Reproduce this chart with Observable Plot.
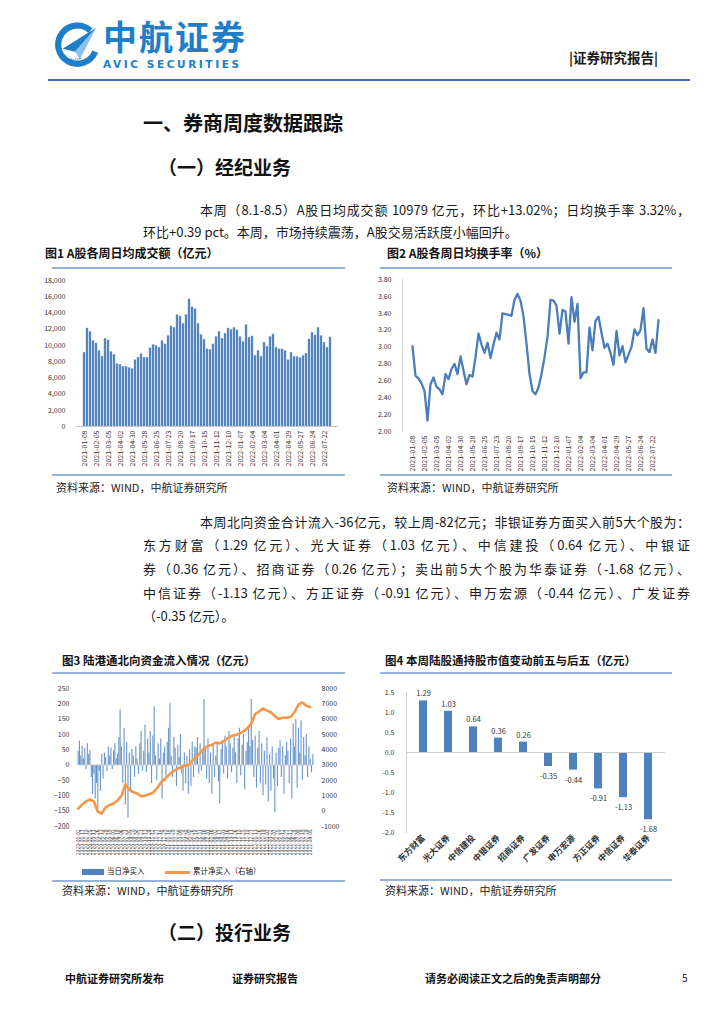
<!DOCTYPE html>
<html><head><meta charset="utf-8">
<script src="https://cdn.jsdelivr.net/npm/d3@7"></script>
<script src="https://cdn.jsdelivr.net/npm/@observablehq/plot@0.6"></script>
<style>
body{margin:0;background:#fff;font-family:"Noto Sans CJK SC","Noto Sans",sans-serif;color:#111;}
#page{position:relative;width:724px;height:1024px;overflow:hidden;background:#fff;}
.abs{position:absolute;white-space:nowrap;}
.ln{position:absolute;white-space:nowrap;font-size:13px;line-height:16px;color:#1a1a1a;}
.j{text-align:justify;text-align-last:justify;}
.ft{font-size:12px;font-weight:700;line-height:14px;}
.src{font-size:11px;line-height:13px;color:#222;}
.rule{position:absolute;height:2px;background:#95B3D7;}
.chart{position:absolute;}
</style></head>
<body><div id="page">
<svg class="abs" style="left:54px;top:21px" width="46" height="48" viewBox="0 0 48 48">
  <path d="M38 9 A20 20 0 1 0 43 31" fill="none" stroke="#1E7EC8" stroke-width="6.5"/>
  <polygon points="9,28 44,6 22,31" fill="#1E7EC8"/>
  <polygon points="22,31 44,6 27,39" fill="#8CC2EA"/>
  <text x="16" y="42" font-size="5.5" font-family="DejaVu Sans" fill="#1E7EC8">AVIC</text>
</svg>
<div class="abs" style="left:103px;top:17px;font-size:34px;font-weight:700;color:#1E7EC8;letter-spacing:2px;line-height:38px;">中航证券</div>
<div class="abs" style="left:103px;top:58px;font-size:10.5px;font-weight:700;color:#1E7EC8;letter-spacing:2.6px;font-family:'DejaVu Sans';line-height:12px;">AVIC SECURITIES</div>
<div class="abs" style="left:569px;top:49px;font-size:13.5px;font-weight:700;color:#1a1a1a;line-height:17px;">|证券研究报告|</div>
<div class="abs" style="left:48px;top:79px;width:642px;height:2px;background:#3E6EB4;"></div>

<div class="abs" style="left:143px;top:111px;font-size:20px;font-weight:700;line-height:24px;">一、券商周度数据跟踪</div>
<div class="abs" style="left:158px;top:155px;font-size:19px;font-weight:700;line-height:24px;">（一）经纪业务</div>

<div class="ln j" style="left:200px;top:202px;width:490px;">本周（8.1-8.5）A股日均成交额 10979 亿元，环比+13.02%；日均换手率 3.32%，</div>
<div class="ln" style="left:143px;top:224px;">环比+0.39 pct。本周，市场持续震荡，A股交易活跃度小幅回升。</div>

<div class="abs ft" style="left:45px;top:246px;">图1 A股各周日均成交额（亿元）</div>
<div class="abs ft" style="left:387px;top:246px;">图2 A股各周日均换手率（%）</div>
<div class="rule" style="left:52px;top:267px;width:293px;"></div>
<div class="rule" style="left:380px;top:267px;width:292px;"></div>
<div id="c1" class="chart" style="left:30px;top:270px;"></div>
<div id="c2" class="chart" style="left:370px;top:270px;"></div>
<div class="rule" style="left:52px;top:474px;width:293px;"></div>
<div class="rule" style="left:380px;top:474px;width:292px;"></div>
<div class="abs src" style="left:56px;top:481px;">资料来源：WIND，中航证券研究所</div>
<div class="abs src" style="left:387px;top:481px;">资料来源：WIND，中航证券研究所</div>

<div class="ln j" style="left:200px;top:514px;width:490px;">本周北向资金合计流入-36亿元，较上周-82亿元；非银证券方面买入前5大个股为：</div>
<div class="ln j" style="left:143px;top:537px;width:547px;">东方财富（1.29 亿元）、光大证券（1.03 亿元）、中信建投（0.64 亿元）、中银证</div>
<div class="ln j" style="left:143px;top:561px;width:547px;">券（0.36 亿元）、招商证券（0.26 亿元）；卖出前5大个股为华泰证券（-1.68 亿元）、</div>
<div class="ln j" style="left:143px;top:585px;width:547px;">中信证券（-1.13 亿元）、方正证券（-0.91 亿元）、申万宏源（-0.44 亿元）、广发证券</div>
<div class="ln" style="left:143px;top:608px;">（-0.35 亿元）。</div>

<div class="abs ft" style="left:62px;top:653px;font-size:11.5px;">图3 陆港通北向资金流入情况（亿元）</div>
<div class="abs ft" style="left:385px;top:653px;font-size:11.5px;">图4 本周陆股通持股市值变动前五与后五（亿元）</div>
<div class="rule" style="left:52px;top:672px;width:293px;"></div>
<div class="rule" style="left:380px;top:672px;width:292px;"></div>
<div id="c3" class="chart" style="left:55px;top:680px;"></div>
<div id="c4" class="chart" style="left:378px;top:680px;"></div>
<div class="abs" style="left:82px;top:869px;width:22px;height:6px;background:#4F81BD;"></div>
<div class="abs" style="left:107px;top:866px;font-size:7.5px;line-height:10px;">当日净买入</div>
<div class="abs" style="left:165px;top:871px;width:25px;height:2.5px;background:#F79646;"></div>
<div class="abs" style="left:193px;top:866px;font-size:7.5px;line-height:10px;">累计净买入（右轴）</div>
<div class="rule" style="left:52px;top:880px;width:293px;"></div>
<div class="rule" style="left:380px;top:879px;width:292px;"></div>
<div class="abs src" style="left:62px;top:884px;">资料来源：WIND，中航证券研究所</div>
<div class="abs src" style="left:385px;top:884px;">资料来源：WIND，中航证券研究所</div>

<div class="abs" style="left:158px;top:920px;font-size:19px;font-weight:700;line-height:24px;">（二）投行业务</div>

<div class="abs" style="left:65px;top:971px;font-size:11px;font-weight:700;line-height:14px;">中航证券研究所发布</div>
<div class="abs" style="left:232px;top:971px;font-size:11px;font-weight:700;line-height:14px;">证券研究报告</div>
<div class="abs" style="left:425px;top:971px;font-size:11px;font-weight:700;line-height:14px;">请务必阅读正文之后的免责声明部分</div>
<div class="abs" style="left:682px;top:971px;font-size:10px;line-height:14px;">5</div>
</div>
<script>
// ---------- Data ----------
const weekDates = [
"2021-01-08","2021-01-15","2021-01-22","2021-01-29","2021-02-05","2021-02-12","2021-02-19","2021-02-26","2021-03-05","2021-03-12",
"2021-03-19","2021-03-26","2021-04-02","2021-04-09","2021-04-16","2021-04-23","2021-04-30","2021-05-07","2021-05-14","2021-05-21",
"2021-05-28","2021-06-04","2021-06-11","2021-06-18","2021-06-25","2021-07-02","2021-07-09","2021-07-16","2021-07-23","2021-07-30",
"2021-08-06","2021-08-13","2021-08-20","2021-08-27","2021-09-03","2021-09-10","2021-09-17","2021-09-24","2021-10-01","2021-10-08",
"2021-10-15","2021-10-22","2021-10-29","2021-11-05","2021-11-12","2021-11-19","2021-11-26","2021-12-03","2021-12-10","2021-12-17",
"2021-12-24","2021-12-31","2022-01-07","2022-01-14","2022-01-21","2022-01-28","2022-02-04","2022-02-11","2022-02-18","2022-02-25",
"2022-03-04","2022-03-11","2022-03-18","2022-03-25","2022-04-01","2022-04-08","2022-04-15","2022-04-22","2022-04-29","2022-05-06",
"2022-05-13","2022-05-20","2022-05-27","2022-06-03","2022-06-10","2022-06-17","2022-06-24","2022-07-01","2022-07-08","2022-07-15",
"2022-07-22","2022-07-29","2022-08-05"];
const turnoverAmt = [
9100,12080,11630,10530,10240,9300,8610,10820,10610,9180,
8820,7670,7590,7350,7350,7200,7060,8160,8490,8900,
8490,8490,9630,10040,9920,9710,10530,10120,11140,12330,
12160,13710,13550,12650,13710,15670,14690,14450,12650,11270,
10690,9510,9400,10120,11020,11670,10820,11430,12080,11880,
12160,11840,11020,10410,12490,10940,11100,8690,9310,8610,
10330,9800,11020,11350,9710,9510,9510,9310,8160,9100,
8570,8570,8410,8690,8980,10730,11550,11220,12160,11140,
10330,9714,10979];
const turnoverRate = [
3.01,2.66,2.63,2.57,2.48,2.13,2.56,2.64,2.53,2.50,
2.44,2.68,2.62,2.74,2.80,2.68,2.89,2.72,2.56,2.67,
2.65,2.88,3.16,3.03,2.93,3.05,2.87,3.03,3.17,3.09,
3.40,3.39,3.38,3.37,3.56,3.63,3.55,3.36,3.04,2.68,
2.48,2.44,2.52,2.68,2.88,3.12,3.56,3.55,3.49,3.16,
3.44,3.42,3.04,3.59,3.30,3.51,2.63,2.70,2.70,3.23,
2.96,3.31,3.36,3.17,2.99,3.04,2.93,2.79,3.19,2.90,
3.01,2.82,2.91,3.00,3.21,3.14,3.20,3.46,2.98,2.94,
3.09,2.93,3.32];
const amtTicks = [0,2000,4000,6000,8000,10000,12000,14000,16000,18000];
const rateTicks = [2.0,2.2,2.4,2.6,2.8,3.0,3.2,3.4,3.6,3.8];

const northDaily = [
45,78,30,62,20,55,-15,70,35,48,
-40,-95,-30,-110,-60,-150,-20,-85,35,-45,
40,25,-20,60,30,55,-15,45,70,20,
35,90,180,60,-60,120,-130,75,-172,40,
-90,50,30,-40,60,20,-30,70,110,-20,
45,130,-25,85,40,110,-60,95,190,30,
-50,70,20,85,-110,40,60,-35,75,120,
200,30,-40,90,55,-70,65,25,100,-30,
-85,40,-60,30,-95,50,-70,75,-40,60,
55,90,-30,70,-20,45,214,60,-45,85,
-60,40,-95,65,-40,30,75,-55,-126,50,
80,-30,95,60,-45,110,70,-25,55,90,
40,-60,85,120,-35,65,100,-80,45,75,
130,60,214,80,-40,95,-75,55,110,-60,
70,-100,45,-65,90,-120,35,-85,60,-45,
-155,40,-70,55,80,-40,60,-95,30,75,
45,-60,85,-110,135,60,150,-75,120,40,
145,-50,90,30,100,-40,60,20,-25,35];
const northCum = [
170,430,640,760,640,-40,-150,260,400,500,
700,1000,1750,1400,1240,1150,980,1000,1100,1200,
1480,1850,2100,2350,2580,2720,2850,2970,3000,3300,
3550,3800,4080,4250,4320,4480,4420,4550,4750,4920,
4960,5050,5200,5400,5700,6330,6500,6690,6560,6450,
6200,6020,6090,6090,6140,6450,6950,7090,6880,6800];
const northDates = [
"2020-01-02","2020-01-17","2020-02-10","2020-02-25","2020-03-11","2020-03-26","2020-04-13","2020-04-28","2020-05-19","2020-06-03",
"2020-06-18","2020-07-06","2020-07-21","2020-08-05","2020-08-20","2020-09-04","2020-09-21","2020-10-13","2020-10-28","2020-11-12",
"2020-11-27","2020-12-14","2020-12-29","2021-01-14","2021-01-29","2021-02-22","2021-03-09","2021-03-24","2021-04-09","2021-04-26",
"2021-05-14","2021-05-31","2021-06-16","2021-07-01","2021-07-16","2021-08-02","2021-08-17","2021-09-01","2021-09-16","2021-10-11",
"2021-10-26","2021-11-10","2021-11-25","2021-12-10","2021-12-27","2022-01-11","2022-01-26","2022-02-18","2022-03-07","2022-03-22",
"2022-04-07","2022-04-25","2022-05-12","2022-05-27","2022-06-13","2022-06-28","2022-07-08","2022-07-19","2022-07-28","2022-08-05"];
const flowTicksLeft = [-200,-150,-100,-50,0,50,100,150,200,250];

const brokers = ["东方财富","光大证券","中信建投","中银证券","招商证券","广发证券","申万宏源","方正证券","中信证券","华泰证券"];
const holdChange = [1.29,1.03,0.64,0.36,0.26,-0.35,-0.44,-0.91,-1.13,-1.68];
const holdTicks = [-2.0,-1.5,-1.0,-0.5,0.0,0.5,1.0,1.5];

// ---------- Charts ----------
const FONT = "'Noto Sans CJK SC','Noto Sans',sans-serif";
const baseStyle = {fontFamily: FONT, fontSize: "7px", color: "#333", background: "transparent", overflow: "visible"};
const BLUE = "#4F81BD";
const labelTicks = weekDates.filter((d, i) => i % 4 === 0);

// Chart 1
const c1data = weekDates.map((d, i) => ({date: d, v: turnoverAmt[i]}));
document.getElementById("c1").append(Plot.plot({
  width: 320, height: 205, marginLeft: 46, marginRight: 12, marginTop: 10, marginBottom: 49,
  style: baseStyle,
  x: {type: "band", domain: weekDates, paddingInner: 0.2, paddingOuter: 0.1, label: null},
  y: {domain: [0, 18000], label: null},
  marks: [
    Plot.barY(c1data, {x: "date", y: "v", fill: BLUE, stroke: "#6f97c9", strokeWidth: 0.4}),
    Plot.ruleY([0], {stroke: "#c8c8c8"}),
    Plot.axisY(amtTicks, {tickSize: 0, tickPadding: 11, tickFormat: d3.format(","), fontSize: 7}),
    Plot.axisX(labelTicks, {tickSize: 0, tickPadding: 4, tickRotate: -90, fontSize: 7})
  ]
}));

// Chart 2
const c2data = weekDates.map((d, i) => ({date: d, v: turnoverRate[i]}));
document.getElementById("c2").append(Plot.plot({
  width: 310, height: 205, marginLeft: 32, marginRight: 13, marginTop: 9, marginBottom: 44,
  style: baseStyle,
  x: {type: "point", domain: weekDates, padding: 0.3, label: null},
  y: {domain: [2.0, 3.8], label: null},
  marks: [
    Plot.frame({anchor: "left", stroke: "#d0d0d0"}),
    Plot.line(c2data, {x: "date", y: "v", stroke: "#4A7EBB", strokeWidth: 2.3}),
    Plot.axisY(rateTicks, {tickSize: 0, tickPadding: 11, tickFormat: d => d.toFixed(2), fontSize: 7}),
    Plot.axisX(labelTicks, {tickSize: 0, tickPadding: 4, tickRotate: -90, fontSize: 7})
  ]
}));

// Chart 3 (dual axis: right axis = left * 20 + 3000)
const flowData = northDaily.map((v, i) => ({i, v}));
const cumData = northCum.map((c, k) => ({i: k * 3, y: (c - 3000) / 20}));
const flowTickIdx = northDates.map((d, k) => k * 3);
document.getElementById("c3").append(Plot.plot({
  width: 300, height: 185, marginLeft: 22, marginRight: 42, marginTop: 8, marginBottom: 39,
  style: baseStyle,
  x: {domain: [-0.5, northDaily.length - 0.5], label: null},
  y: {domain: [-200, 250], label: null},
  marks: [
    Plot.ruleX(flowData, {x: "i", y1: 0, y2: "v", stroke: BLUE, strokeWidth: 1.1, strokeOpacity: 0.85}),
    Plot.ruleY([0], {stroke: "#c8c8c8", strokeWidth: 0.8}),
    Plot.line(cumData, {x: "i", y: "y", stroke: "#F79646", strokeWidth: 2.6}),
    Plot.axisY(flowTicksLeft, {anchor: "left", tickSize: 0, tickPadding: 8, fontSize: 7}),
    Plot.axisY(flowTicksLeft, {anchor: "right", tickSize: 0, tickPadding: 8, fontSize: 7, tickFormat: d => String(d * 20 + 3000)}),
    Plot.axisX(flowTickIdx, {tickSize: 0, tickPadding: 3, tickRotate: -90, fontSize: 5, tickFormat: i => northDates[i / 3]})
  ]
}));

// Chart 4
const c4data = brokers.map((n, i) => ({name: n, v: holdChange[i]}));
document.getElementById("c4").append(Plot.plot({
  width: 310, height: 195, marginLeft: 28, marginRight: 23, marginTop: 12, marginBottom: 43,
  style: baseStyle,
  x: {type: "band", domain: brokers, paddingInner: 0.68, paddingOuter: 0.34, label: null},
  y: {domain: [-2, 1.5], label: null},
  marks: [
    Plot.frame({anchor: "left", stroke: "#d0d0d0"}),
    Plot.barY(c4data, {x: "name", y: "v", fill: BLUE}),
    Plot.ruleY([0], {stroke: "#d0d0d0"}),
    Plot.text(c4data.filter(d => d.v >= 0), {x: "name", y: "v", text: d => d.v.toFixed(2), dy: -7, fontSize: 7.5}),
    Plot.text(c4data.filter(d => d.v < 0), {x: "name", y: "v", text: d => d.v.toFixed(2), dy: 10, fontSize: 7.5}),
    Plot.axisY(holdTicks, {tickSize: 0, tickPadding: 12, tickFormat: d => d.toFixed(1), fontSize: 7}),
    Plot.axisX(brokers, {anchor: "bottom", tickSize: 0, tickPadding: 4, tickRotate: -45, fontSize: 8.5, fontWeight: 700})
  ]
}));
</script>
</body></html>
